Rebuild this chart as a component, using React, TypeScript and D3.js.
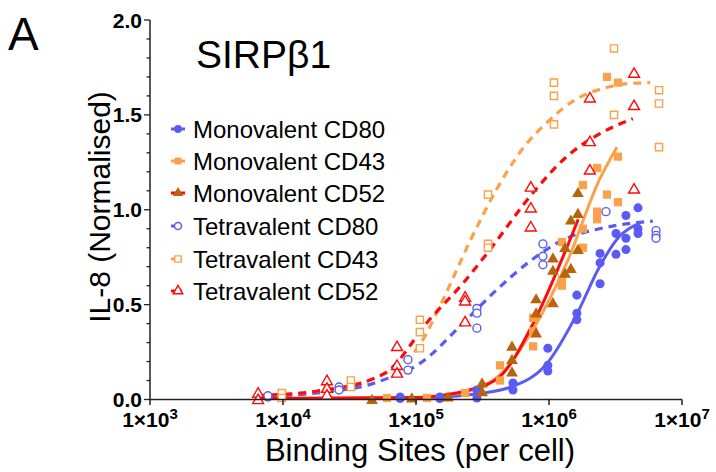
import React from "react";
import * as d3 from "d3";

// ---------- data ----------
const xTickValues = [1e3, 1e4, 1e5, 1e6, 1e7];
const xTickExponents = ["3", "4", "5", "6", "7"];
const yTickValues = [0, 0.5, 1.0, 1.5, 2.0];
const yTickLabels = ["0.0", "0.5", "1.0", "1.5", "2.0"];

const monoCD80X = [7.6e4, 7.6e4, 1.51e5, 1.51e5, 2.87e5, 2.87e5, 5.36e5, 5.36e5, 9.8e5, 9.8e5, 9.8e5, 1.62e6, 1.62e6, 1.62e6, 2.42e6, 2.42e6, 2.42e6, 3.19e6, 3.19e6, 3.79e6, 3.79e6, 3.79e6, 4.67e6, 4.67e6, 4.67e6];
const monoCD80Y = [0.013, 0.005, 0.013, 0.005, 0.05, 0.008, 0.087, 0.05, 0.27, 0.18, 0.15, 0.55, 0.455, 0.42, 0.77, 0.72, 0.61, 0.875, 0.765, 0.97, 0.85, 0.79, 1.01, 0.9, 0.875];

const monoCD43X = [6.05e4, 1.21e5, 2.34e5, 4.28e5, 4.28e5, 7.6e5, 7.6e5, 7.6e5, 1.25e6, 1.25e6, 1.25e6, 1.8e6, 1.8e6, 1.8e6, 2.3e6, 2.3e6, 2.3e6, 2.73e6, 2.73e6, 3.3e6, 3.3e6, 3.3e6];
const monoCD43Y = [0.008, 0.008, 0.034, 0.18, 0.1, 0.43, 0.36, 0.28, 0.83, 0.63, 0.6, 1.13, 0.9, 0.8, 1.22, 0.99, 0.95, 1.7, 1.08, 1.67, 1.28, 1.04];

const monoCD52X = [4.67e4, 9.3e4, 1.74e5, 3.14e5, 3.14e5, 5.27e5, 5.27e5, 5.27e5, 8.0e5, 8.0e5, 8.0e5, 1.07e6, 1.07e6, 1.07e6, 1.32e6, 1.32e6, 1.46e6, 1.46e6, 1.65e6, 1.65e6, 1.65e6];
const monoCD52Y = [0.0, 0.008, 0.013, 0.087, 0.04, 0.28, 0.21, 0.145, 0.53, 0.455, 0.35, 0.745, 0.68, 0.51, 0.8, 0.665, 0.945, 0.69, 1.09, 0.98, 0.79];

const tetraCD80X = [7.7e3, 7.7e3, 2.64e4, 2.64e4, 8.7e4, 8.7e4, 2.87e5, 2.87e5, 2.87e5, 9.0e5, 9.0e5, 9.0e5, 2.68e6, 6.38e6, 6.38e6, 6.38e6];
const tetraCD80Y = [0.013, 0.02, 0.066, 0.05, 0.21, 0.155, 0.48, 0.455, 0.376, 0.82, 0.755, 0.71, 0.99, 0.89, 0.865, 0.85];

const tetraCD43X = [9.8e3, 9.8e3, 3.24e4, 3.24e4, 1.07e5, 1.07e5, 1.07e5, 3.48e5, 3.48e5, 3.48e5, 1.09e6, 1.09e6, 1.09e6, 3.08e6, 3.08e6, 6.72e6, 6.72e6, 6.72e6];
const tetraCD43Y = [0.034, 0.008, 0.1, 0.066, 0.42, 0.355, 0.27, 1.08, 0.82, 0.8, 1.67, 1.6, 1.45, 1.85, 1.5, 1.63, 1.56, 1.33];

const tetraCD52X = [6.5e3, 6.5e3, 2.14e4, 2.14e4, 2.14e4, 7.2e4, 7.2e4, 7.2e4, 2.34e5, 2.34e5, 2.34e5, 7.3e5, 7.3e5, 7.3e5, 2.03e6, 2.03e6, 2.03e6, 4.36e6, 4.36e6, 4.36e6];
const tetraCD52Y = [0.034, 0.0, 0.1, 0.06, 0.024, 0.28, 0.18, 0.14, 0.54, 0.52, 0.41, 1.12, 1.01, 0.91, 1.59, 1.36, 1.21, 1.72, 1.55, 1.11];

// fitted curves
const monoCD80FitX = [6.3e3, 3.16e4, 1e5, 2.51e5, 5.37e5, 9.66e5, 1.62e6, 2.4e6, 3.39e6, 4.79e6];
const monoCD80FitY = [0.005, 0.005, 0.008, 0.025, 0.07, 0.19, 0.45, 0.7, 0.86, 0.93];
const monoCD43FitX = [6.3e3, 1e5, 2e5, 4.27e5, 7.59e5, 1.36e6, 2.4e6, 3.24e6];
const monoCD43FitY = [0.005, 0.01, 0.03, 0.13, 0.37, 0.72, 1.16, 1.33];
const monoCD52FitX = [6.3e3, 1e5, 1.51e5, 2.51e5, 4.27e5, 7.59e5, 1.36e6, 1.66e6];
const monoCD52FitY = [0.005, 0.01, 0.02, 0.05, 0.12, 0.4, 0.8, 0.95];
const tetraCD80FitX = [6.3e3, 1.82e4, 4.79e4, 6.03e4, 1.07e5, 2.24e5, 4.07e5, 7.24e5, 1.36e6, 2.4e6, 4.27e6, 6.03e6];
const tetraCD80FitY = [0.015, 0.035, 0.085, 0.11, 0.19, 0.4, 0.58, 0.73, 0.85, 0.9, 0.93, 0.94];
const tetraCD43FitX = [6.3e3, 1.82e4, 4.79e4, 1.07e5, 1.58e5, 2.57e5, 3.98e5, 6.31e5, 1e6, 1.58e6, 2.57e6, 3.98e6, 5.75e6];
const tetraCD43FitY = [0.02, 0.045, 0.11, 0.29, 0.52, 0.84, 1.1, 1.32, 1.47, 1.58, 1.64, 1.665, 1.67];
const tetraCD52FitX = [6.3e3, 1.82e4, 4.79e4, 6.03e4, 1.26e5, 2.24e5, 3.6e5, 7.59e5, 1.36e6, 2.4e6, 4.27e6];
const tetraCD52FitY = [0.02, 0.045, 0.11, 0.145, 0.42, 0.61, 0.79, 1.09, 1.28, 1.4, 1.48];

const legendLabels = ["Monovalent CD80", "Monovalent CD43", "Monovalent CD52", "Tetravalent CD80", "Tetravalent CD43", "Tetravalent CD52"];

// ---------- styling ----------
const BLUE = "#5a5af5";
const ORANGE = "#fca04a";
const BROWN = "#b9630f";
const RED = "#ff0a0a";
const FONT = "Arial, 'Liberation Sans', Helvetica, sans-serif";

type SeriesDef = {
  xs: number[]; ys: number[]; fx: number[]; fy: number[];
  shape: d3.SymbolType; markerColor: string; lineColor: string; open: boolean; size: number;
};

const series: SeriesDef[] = [
  { xs: monoCD80X, ys: monoCD80Y, fx: monoCD80FitX, fy: monoCD80FitY, shape: d3.symbolCircle, markerColor: BLUE, lineColor: BLUE, open: false, size: 64 },
  { xs: monoCD43X, ys: monoCD43Y, fx: monoCD43FitX, fy: monoCD43FitY, shape: d3.symbolSquare, markerColor: ORANGE, lineColor: ORANGE, open: false, size: 68 },
  { xs: monoCD52X, ys: monoCD52Y, fx: monoCD52FitX, fy: monoCD52FitY, shape: d3.symbolTriangle, markerColor: BROWN, lineColor: RED, open: false, size: 60 },
  { xs: tetraCD80X, ys: tetraCD80Y, fx: tetraCD80FitX, fy: tetraCD80FitY, shape: d3.symbolCircle, markerColor: BLUE, lineColor: BLUE, open: true, size: 50 },
  { xs: tetraCD43X, ys: tetraCD43Y, fx: tetraCD43FitX, fy: tetraCD43FitY, shape: d3.symbolSquare, markerColor: ORANGE, lineColor: ORANGE, open: true, size: 52 },
  { xs: tetraCD52X, ys: tetraCD52Y, fx: tetraCD52FitX, fy: tetraCD52FitY, shape: d3.symbolTriangle, markerColor: RED, lineColor: RED, open: true, size: 52 },
];

export default function App() {
  const W = 716, H = 472;
  const x = d3.scaleLog().domain([1e3, 1e7]).range([150, 682]);
  const y = d3.scaleLinear().domain([0, 2]).range([399.5, 20]);

  const line = d3.line<[number, number]>()
    .x((d) => x(d[0]))
    .y((d) => y(d[1]))
    .curve(d3.curveMonotoneX);

  const minorY = d3.range(0, 2.0001, 0.1);
  const sym = (t: d3.SymbolType, s: number) => d3.symbol().type(t).size(s)() as string;

  const legendY = [129, 161, 193, 226, 259, 291];

  return (
    <svg width={W} height={H} style={{ position: "absolute", left: 0, top: 0, background: "#fff" }} fontFamily={FONT}>
      <rect width={W} height={H} fill="#fff" />
      {/* panel letter and title */}
      <text x={8} y={50} fontSize={46} fill="#000">A</text>
      <text x={196} y={68} fontSize={39} fill="#000">SIRPβ1</text>

      {/* fitted curves: dashed first */}
      {series.slice(3).map((s, i) => (
        <path key={"fd" + i} d={line(s.fx.map((v, j) => [v, s.fy[j]] as [number, number])) as string}
          fill="none" stroke={s.lineColor} strokeWidth={3.2} strokeDasharray="8 6" />
      ))}
      {series.slice(0, 3).map((s, i) => (
        <path key={"fs" + i} d={line(s.fx.map((v, j) => [v, s.fy[j]] as [number, number])) as string}
          fill="none" stroke={s.lineColor} strokeWidth={3} />
      ))}

      {/* points */}
      {series.map((s, i) => (
        <g key={"p" + i}>
          {s.xs.map((v, j) => (
            <path key={j} d={sym(s.shape, s.size)}
              transform={`translate(${x(v)},${y(s.ys[j]) + (s.shape === d3.symbolTriangle ? 1 : 0)})`}
              fill={s.open ? "#fff" : s.markerColor}
              stroke={s.open ? s.markerColor : "none"} strokeWidth={1.4} />
          ))}
        </g>
      ))}

      {/* y axis */}
      <line x1={150} x2={150} y1={y(2)} y2={y(0)} stroke="#222" strokeWidth={1.5} />
      {minorY.map((v, i) => (
        <line key={"my" + i} x1={150} x2={Math.round(v * 10) % 5 === 0 ? 144 : 146.5} y1={y(v)} y2={y(v)} stroke="#222" strokeWidth={1.3} />
      ))}
      {yTickValues.map((v, i) => (
        <text key={"yt" + i} x={142} y={y(v) + 7.5} textAnchor="end" fontSize={21} fontWeight="bold" fill="#000">{yTickLabels[i]}</text>
      ))}

      {/* x axis */}
      <line x1={150} x2={682} y1={399.5} y2={399.5} stroke="#222" strokeWidth={1.5} />
      {xTickValues.map((v, i) => (
        <g key={"xt" + i}>
          <line x1={x(v)} x2={x(v)} y1={399.5} y2={405} stroke="#222" strokeWidth={1.5} />
          <text x={x(v)} y={427} textAnchor="middle" fontSize={21} fontWeight="bold" fill="#000">
            1×10<tspan fontSize={15} dy={-8.5}>{xTickExponents[i]}</tspan>
          </text>
        </g>
      ))}

      {/* axis titles */}
      <text x={420} y={461} textAnchor="middle" fontSize={31} fill="#000">Binding Sites (per cell)</text>
      <text transform="translate(110,207) rotate(-90)" textAnchor="middle" fontSize={30} fill="#000">IL-8 (Normalised)</text>

      {/* legend */}
      {series.map((s, i) => (
        <g key={"lg" + i} transform={`translate(178,${legendY[i]})`}>
          <line x1={-7} x2={7} y1={0} y2={0} stroke={s.lineColor} strokeWidth={3} strokeDasharray={s.open ? "4 3" : undefined} />
          <path d={sym(s.shape, s.open ? 40 : 48)} fill={s.open ? "#fff" : s.markerColor} stroke={s.open ? s.markerColor : "none"} strokeWidth={1.4} />
          <text x={15} y={8.5} fontSize={24} fill="#000">{legendLabels[i]}</text>
        </g>
      ))}
    </svg>
  );
}
